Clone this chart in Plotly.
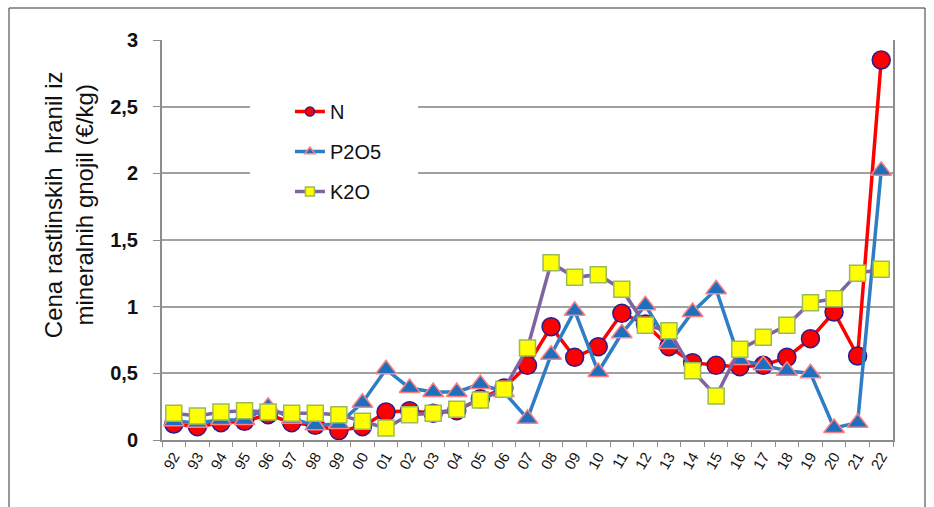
import plotly.graph_objects as go

years = ["92", "93", "94", "95", "96", "97", "98", "99", "00", "01", "02", "03", "04", "05", "06",
         "07", "08", "09", "10", "11", "12", "13", "14", "15", "16", "17", "18", "19", "20", "21", "22"]
n_vals = [0.12, 0.10, 0.13, 0.14, 0.19, 0.13, 0.11, 0.07, 0.10, 0.21, 0.22, 0.20, 0.22, 0.31, 0.39,
          0.56, 0.85, 0.62, 0.70, 0.95, 0.87, 0.70, 0.58, 0.56, 0.55, 0.56, 0.62, 0.76, 0.96, 0.63, 2.85]
p_vals = [0.14, 0.13, 0.15, 0.15, 0.25, 0.16, 0.11, 0.12, 0.28, 0.53, 0.39, 0.36, 0.36, 0.42, 0.36,
          0.16, 0.64, 0.97, 0.51, 0.80, 1.01, 0.72, 0.96, 1.13, 0.60, 0.56, 0.52, 0.50, 0.09, 0.13, 2.02]
k_vals = [0.20, 0.18, 0.21, 0.22, 0.21, 0.20, 0.20, 0.19, 0.14, 0.09, 0.19, 0.20, 0.23, 0.30, 0.38,
          0.69, 1.33, 1.22, 1.24, 1.13, 0.86, 0.82, 0.52, 0.33, 0.68, 0.77, 0.86, 1.03, 1.06, 1.25, 1.28]
series_names = ["N", "P2O5", "K2O"]
y_title = "Cena rastlinskih  hranil iz<br>mineralnih gnojil (€/kg)"

styles = {
    "N": dict(line="#FF0000", fill="#FF0000", edge="#2B1B8C", symbol="circle", size=18),
    "P2O5": dict(line="#2F7DC4", fill="#1F6FBF", edge="#FF8080", symbol="triangle-up", size=18),
    "K2O": dict(line="#8064A2", fill="#FFFF00", edge="#9BBB59", symbol="square", size=16),
}

fig = go.Figure()
for name, vals in zip(series_names, [n_vals, p_vals, k_vals]):
    s = styles[name]
    fig.add_trace(go.Scatter(
        x=years, y=vals, mode="lines+markers", name=name, showlegend=False,
        line=dict(color=s["line"], width=3.5),
        marker=dict(symbol=s["symbol"], size=s["size"], color=s["fill"],
                    line=dict(color=s["edge"], width=1.5)),
    ))
for i, name in enumerate(series_names):
    s = styles[name]
    fig.add_trace(go.Scatter(
        x=[years[0]], y=[None], mode="lines+markers", name=name, legendgroup=name,
        line=dict(color=s["line"], width=3.5),
        marker=dict(symbol=s["symbol"], size=9, color=s["fill"],
                    line=dict(color=s["edge"], width=1.5)),
    ))

fig.update_layout(
    width=934, height=507,
    margin=dict(l=162, r=41, t=40, b=67),
    paper_bgcolor="white", plot_bgcolor="white",
    separators=", ",
    font=dict(family="Liberation Sans, Arial, sans-serif", color="#111111"),
    showlegend=True,
    legend=dict(x=0.175, y=0.87, xanchor="left", yanchor="top",
                bgcolor="rgba(0,0,0,0)", traceorder="grouped", tracegroupgap=11,
                font=dict(size=20, color="#111111"), itemwidth=30),
    xaxis=dict(
        type="category", range=[-0.5, len(years) - 0.5], autorange=False,
        showgrid=False, showline=True, linecolor="#8c8c8c", linewidth=2,
        ticks="outside", tickson="boundaries", ticklen=5, tickcolor="#8c8c8c",
        tickangle=-60, tickfont=dict(size=15, color="#111111"),
    ),
    yaxis=dict(
        range=[0, 3], autorange=False, dtick=0.5, showgrid=True, gridcolor="#a0a0a0", gridwidth=1.5,
        showline=True, linecolor="#8c8c8c", linewidth=2, mirror=True,
        ticks="outside", ticklen=7, tickcolor="#8c8c8c", ticklabelstandoff=11,
        tickfont=dict(size=20, color="#111111", family="Liberation Sans, Arial, sans-serif", weight="bold"),
        zeroline=False,
    ),
    shapes=[
        dict(type="rect", xref="x", yref="y", x0=3.23, x1=10.36, y0=1.69, y1=2.66,
             fillcolor="white", line=dict(width=0), layer="between"),
        dict(type="rect", xref="paper", yref="paper", x0=-0.2093, x1=1.0438, y0=-0.20, y1=1.08,
             line=dict(color="#333333", width=1), fillcolor="rgba(0,0,0,0)", layer="above"),
    ],
    annotations=[
        dict(text=y_title, xref="paper", yref="paper", x=-0.127, y=0.5875, xanchor="center", yanchor="middle",
             textangle=-90, showarrow=False, font=dict(size=24, color="#111111")),
    ],
)

fig.write_html("out.html", config={"displayModeBar": False},
               post_script="document.body.style.margin='0px';")
